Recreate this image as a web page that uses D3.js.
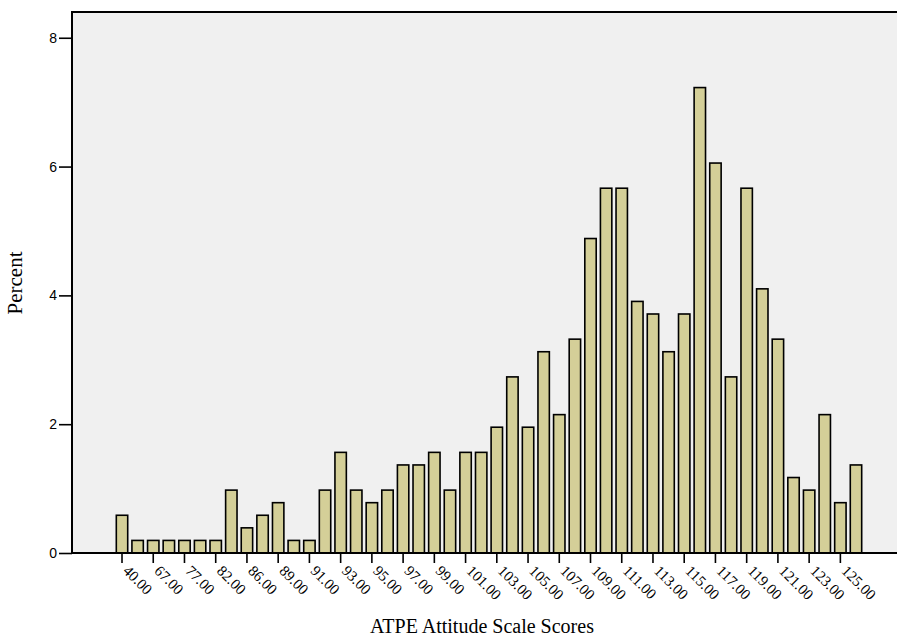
<!DOCTYPE html>
<html>
<head>
<meta charset="utf-8">
<script src="https://cdn.jsdelivr.net/npm/d3@7"></script>
<style>
  html, body { margin: 0; padding: 0; background: #ffffff; }
  svg { display: block; }
</style>
</head>
<body>
<svg id="chart" width="897" height="643"></svg>
<script>
// ---- data ----
const categories = ["40.00","60.00","67.00","73.00","77.00","80.00","82.00","84.00","86.00","88.00","89.00","90.00",
  "91.00","92.00","93.00","94.00","95.00","96.00","97.00","98.00","99.00","100.00","101.00","102.00","103.00","104.00",
  "105.00","106.00","107.00","108.00","109.00","110.00","111.00","112.00","113.00","114.00","115.00","116.00","117.00",
  "118.00","119.00","120.00","121.00","122.00","123.00","124.00","125.00","126.00"];
const counts = [3,1,1,1,1,1,1,5,2,3,4,1,1,5,8,5,4,5,7,7,8,5,8,8,10,14,10,16,11,17,25,29,29,20,19,16,19,37,31,14,29,21,17,6,5,11,4,7];
const total = 512;
const percents = counts.map(c => c / total * 100);
const tickLabels = ["40.00","67.00","77.00","82.00","86.00","89.00","91.00","93.00","95.00","97.00","99.00","101.00",
  "103.00","105.00","107.00","109.00","111.00","113.00","115.00","117.00","119.00","121.00","123.00","125.00"];
const yTicks = [0, 2, 4, 6, 8];
const xTitle = "ATPE Attitude Scale Scores";
const yTitle = "Percent";

// ---- layout ----
const svg = d3.select("#chart");
const plot = { left: 72, top: 12, bottom: 553, right: 905 };

const x = d3.scaleBand()
  .domain(categories)
  .range([114.2, 863.8])
  .paddingInner(0.27)
  .paddingOuter(0.135);

const y = d3.scaleLinear()
  .domain([0, 8.4])
  .range([plot.bottom, plot.top]);

// plot background + frame
svg.append("rect")
  .attr("x", plot.left).attr("y", plot.top)
  .attr("width", plot.right - plot.left).attr("height", plot.bottom - plot.top)
  .attr("fill", "#f0f0f0")
  .attr("stroke", "#000").attr("stroke-width", 2);

// bars
svg.append("g").selectAll("rect")
  .data(categories.map((c, i) => ({ c, v: percents[i] })))
  .join("rect")
  .attr("x", d => x(d.c))
  .attr("y", d => y(d.v))
  .attr("width", x.bandwidth())
  .attr("height", d => y(0) - y(d.v))
  .attr("fill", "#d4cf98")
  .attr("stroke", "#000")
  .attr("stroke-width", 1.6);

// y axis
const yAxis = svg.append("g")
  .attr("transform", `translate(${plot.left},0)`)
  .call(d3.axisLeft(y).tickValues(yTicks).tickFormat(d3.format("d")).tickSize(13).tickPadding(2));
yAxis.select(".domain").remove();
yAxis.selectAll(".tick line").attr("stroke", "#000").attr("stroke-width", 1.6);
yAxis.selectAll(".tick text")
  .attr("font-family", "'Liberation Sans', Arial, sans-serif")
  .attr("font-size", 14).attr("fill", "#000");

// baseline
svg.append("line")
  .attr("x1", plot.left).attr("x2", plot.right)
  .attr("y1", plot.bottom).attr("y2", plot.bottom)
  .attr("stroke", "#000").attr("stroke-width", 2);

// x axis
const xAxis = svg.append("g")
  .attr("transform", `translate(0,${plot.bottom})`)
  .call(d3.axisBottom(x).tickValues(tickLabels).tickSize(10).tickPadding(0));
xAxis.select(".domain").remove();
xAxis.selectAll(".tick line").attr("stroke", "#000").attr("stroke-width", 1.6);
xAxis.selectAll(".tick text")
  .attr("font-family", "'Liberation Serif', 'Times New Roman', serif")
  .attr("font-size", 15).attr("fill", "#000")
  .attr("text-anchor", "start")
  .attr("y", 0).attr("dy", "0.35em")
  .attr("transform", "translate(4,15) rotate(45)");

// axis titles
svg.append("text")
  .attr("x", 482).attr("y", 633)
  .attr("text-anchor", "middle")
  .attr("font-family", "'Liberation Serif', 'Times New Roman', serif")
  .attr("font-size", 20).attr("fill", "#000")
  .text(xTitle);

svg.append("text")
  .attr("transform", "translate(22,283) rotate(-90)")
  .attr("text-anchor", "middle")
  .attr("font-family", "'Liberation Serif', 'Times New Roman', serif")
  .attr("font-size", 21).attr("fill", "#000")
  .text(yTitle);
</script>
</body>
</html>
